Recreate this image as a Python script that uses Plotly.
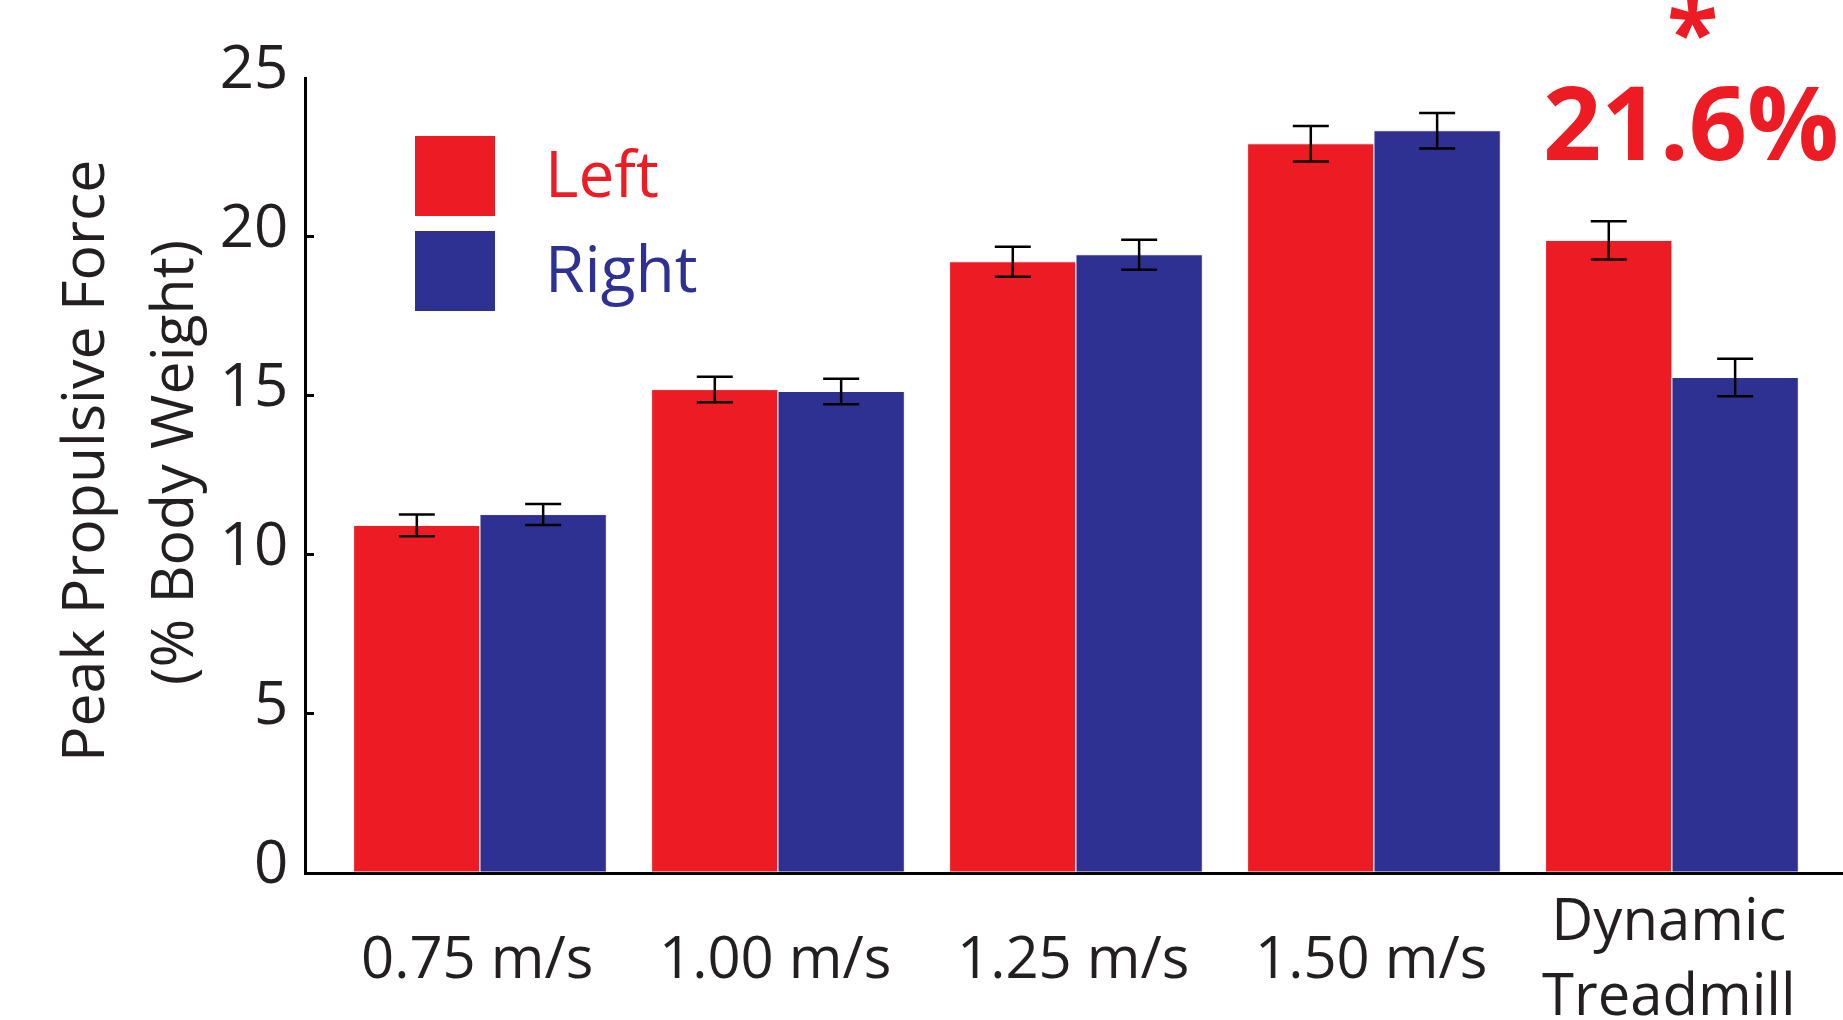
import plotly.graph_objects as go

# Peak propulsive force by walking condition, left vs right limb
categories = ["0.75 m/s", "1.00 m/s", "1.25 m/s", "1.50 m/s", "Dynamic Treadmill"]
category_labels = ["0.75 m/s", "1.00 m/s", "1.25 m/s", "1.50 m/s", "Dynamic<br>Treadmill"]
left_force = [10.90, 15.17, 19.19, 22.90, 19.86]
left_err = [0.34, 0.40, 0.47, 0.56, 0.60]
right_force = [11.24, 15.11, 19.41, 23.31, 15.55]
right_err = [0.33, 0.40, 0.47, 0.56, 0.59]
y_ticks = [0, 5, 10, 15, 20, 25]
asymmetry_label = "21.6%"

RED = "#ED1C24"
BLUE = "#2E3192"
INK = "#231F20"
FONT = "Open Sans"

W, H = 1843, 1020
M_L, M_R, M_T, M_B = 307, 0, 77, 148
PW, PH = W - M_L - M_R, H - M_T - M_B


def px(xpix):
    return (xpix - M_L) / PW


def py(ypix):
    return (H - M_B - ypix) / PH


fig = go.Figure()
fig.add_trace(go.Bar(
    name="Left", x=categories, y=left_force,
    marker=dict(color=RED, line=dict(color="white", width=1)),
    error_y=dict(type="data", array=left_err, color="black", thickness=2.5, width=18),
))
fig.add_trace(go.Bar(
    name="Right", x=categories, y=right_force,
    marker=dict(color=BLUE, line=dict(color="white", width=1)),
    error_y=dict(type="data", array=right_err, color="black", thickness=2.5, width=18),
))

annotations = []
# category labels, vertically centred below the axis
for cat, lab in zip(categories, category_labels):
    annotations.append(dict(
        x=cat, xref="x", y=py(955), yref="paper", text=lab, showarrow=False,
        xanchor="center", yanchor="middle", align="center", xshift=-3,
        font=dict(family=FONT, size=58, color=INK),
    ))

# two-line y-axis title
annotations.append(dict(
    x=px(81), xref="paper", y=py(461), yref="paper", text="Peak Propulsive Force",
    textangle=-90, showarrow=False, xanchor="center", yanchor="middle",
    font=dict(family=FONT, size=59, color=INK),
))
annotations.append(dict(
    x=px(170), xref="paper", y=py(463), yref="paper", text="(% Body Weight)",
    textangle=-90, showarrow=False, xanchor="center", yanchor="middle",
    font=dict(family=FONT, size=59, color=INK),
))

# legend labels
annotations.append(dict(
    x=px(543), xref="paper", y=py(172), yref="paper", text="Left", showarrow=False,
    xanchor="left", yanchor="middle", font=dict(family=FONT, size=64, color=RED),
))
annotations.append(dict(
    x=px(543), xref="paper", y=py(267), yref="paper", text="Right", showarrow=False,
    xanchor="left", yanchor="middle", font=dict(family=FONT, size=64, color=BLUE),
))

# asymmetry callout over the dynamic treadmill group
annotations.append(dict(
    x=categories[-1], xref="x", y=py(120), yref="paper", text=f"<b>{asymmetry_label}</b>",
    showarrow=False, xanchor="center", yanchor="middle", xshift=19,
    font=dict(family=FONT, size=102, color=RED),
))
annotations.append(dict(
    x=categories[-1], xref="x", y=py(30), yref="paper", text="<b>*</b>",
    showarrow=False, xanchor="center", yanchor="middle", xshift=21,
    font=dict(family=FONT, size=94, color=RED),
))

shapes = [
    dict(type="rect", xref="paper", yref="paper", x0=px(415), x1=px(495), y0=py(216), y1=py(136),
         fillcolor=RED, line=dict(width=0)),
    dict(type="rect", xref="paper", yref="paper", x0=px(415), x1=px(495), y0=py(311), y1=py(231),
         fillcolor=BLUE, line=dict(width=0)),
]

fig.update_layout(
    width=W, height=H, autosize=False,
    margin=dict(l=M_L, r=M_R, t=M_T, b=M_B, pad=0),
    paper_bgcolor="white", plot_bgcolor="white",
    barmode="group", bargap=0.152, bargroupgap=0,
    showlegend=False,
    annotations=annotations, shapes=shapes,
    font=dict(family=FONT, color=INK),
)
fig.update_xaxes(
    type="category", range=[-0.5805, 4.574], showticklabels=False, ticks="",
    showline=True, linecolor="black", linewidth=2.5, showgrid=False, zeroline=False,
)
fig.update_yaxes(
    range=[0, 25], tickvals=y_ticks, ticks="inside", ticklen=7, tickwidth=2.5, tickcolor="black",
    showline=True, linecolor="black", linewidth=2.5, showgrid=False, zeroline=False,
    tickfont=dict(family=FONT, size=60, color=INK), ticklabelstandoff=4, ticklabelshift=-10,
)

fig.write_html("out.html", config={"displayModeBar": False})
